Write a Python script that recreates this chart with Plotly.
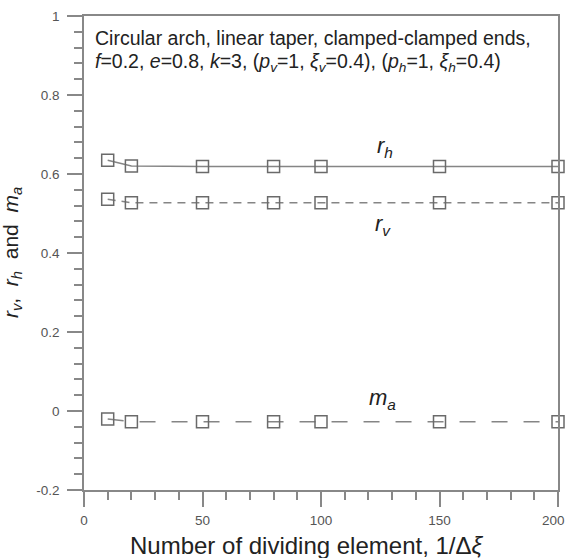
import plotly.graph_objects as go

x_elems = [10, 20, 50, 80, 100, 150, 200]
r_h = [0.635, 0.620, 0.619, 0.619, 0.619, 0.619, 0.619]
r_v = [0.536, 0.527, 0.527, 0.527, 0.527, 0.527, 0.527]
m_a = [-0.020, -0.027, -0.027, -0.027, -0.027, -0.027, -0.027]

y_ticks = [-0.2, 0, 0.2, 0.4, 0.6, 0.8, 1]
y_ticktext = ["-0.2", "0", "0.2", "0.4", "0.6", "0.8", "1"]
x_ticks = [0, 50, 100, 150, 200]
x_ticktext = ["0", "50", "100", "150", "200"]

FONT = "Arial, Liberation Sans, sans-serif"
LINE = "#858585"
MARK = "#6a6a6a"
TICKFONT = dict(family=FONT, size=13.5, color="#555555")

fig = go.Figure()

def add(y, dash):
    fig.add_trace(go.Scatter(
        x=x_elems, y=y, mode="lines+markers",
        line=dict(color=LINE, width=1.5, dash=dash),
        marker=dict(symbol="square-open", size=12, color=MARK, line=dict(width=1.5, color=MARK)),
        showlegend=False, cliponaxis=False))

add(r_h, "solid")
add(r_v, "8px,6px")
add(m_a, "16px,16px")

axis_common = dict(
    showline=True, linecolor="#888888", linewidth=1.5, mirror=True,
    showgrid=False, zeroline=False, ticks="outside", tickcolor="#888888",
    tickwidth=1.5, ticklen=15, automargin=False,
    tickfont=TICKFONT,
)

# last x label drawn separately so that it stays inside the page
x_ticktext_drawn = x_ticktext[:-1] + [""]
fig.update_xaxes(range=[0, 200], tickmode="array", tickvals=x_ticks, ticktext=x_ticktext_drawn,
                 minor=dict(dtick=10, ticks="outside", ticklen=8, tickcolor="#888888", tickwidth=1.5),
                 ticklabelstandoff=2, **axis_common)
fig.add_annotation(x=x_ticks[-1], xref="x", y=0, yref="paper", yshift=-30, xshift=8,
                   xanchor="right", yanchor="middle", text=x_ticktext[-1], showarrow=False,
                   font=TICKFONT, borderpad=0)
fig.update_yaxes(range=[-0.2, 1], tickmode="array", tickvals=y_ticks, ticktext=y_ticktext,
                 minor=dict(dtick=0.04, tick0=0, ticks="outside", ticklen=8, tickcolor="#888888", tickwidth=1.5),
                 ticklabelstandoff=5, **axis_common)

txtfont = dict(family=FONT, size=19.5, color="#222222")
ann = [
    dict(x=0.019, y=38, text="Circular arch, linear taper, clamped-clamped ends,"),
    dict(x=0.019, y=62, text="<i>f</i>=0.2, <i>e</i>=0.8, <i>k</i>=3, (<i>p<sub>v</sub></i>=1, <i>ξ<sub>v</sub></i>=0.4), (<i>p<sub>h</sub></i>=1, <i>ξ<sub>h</sub></i>=0.4)"),
]
for a in ann:
    fig.add_annotation(x=a["x"], y=1 - (a["y"] - 16) / 474, xref="paper", yref="paper",
                       xanchor="left", yanchor="middle", text=a["text"], showarrow=False,
                       font=txtfont)

labfont = dict(family=FONT, size=22, color="#222222")
fig.add_annotation(x=127, y=0.668, text="<i>r<sub>h</sub></i>", showarrow=False, font=labfont)
fig.add_annotation(x=126, y=0.471, text="<i>r<sub>v</sub></i>", showarrow=False, font=labfont)
fig.add_annotation(x=126, y=0.030, text="<i>m<sub>a</sub></i>", showarrow=False, font=labfont)

# axis titles
fig.add_annotation(x=0.47, y=0, yshift=-55, xref="paper", yref="paper", yanchor="middle",
                   text="Number of dividing element, 1/Δ<i>ξ</i>", showarrow=False,
                   font=dict(family=FONT, size=24, color="#222222"))
fig.add_annotation(x=0, xshift=-72, y=0.5, xref="paper", yref="paper", xanchor="center",
                   text="<i>r<sub>v</sub></i>,  <i>r<sub>h</sub></i>  and  <i>m<sub>a</sub></i>",
                   textangle=-90, showarrow=False,
                   font=dict(family=FONT, size=21, color="#222222"))

fig.update_layout(width=567, height=558, margin=dict(l=84, r=9, t=16, b=68),
                  paper_bgcolor="white", plot_bgcolor="white")

fig.write_html("out.html")
